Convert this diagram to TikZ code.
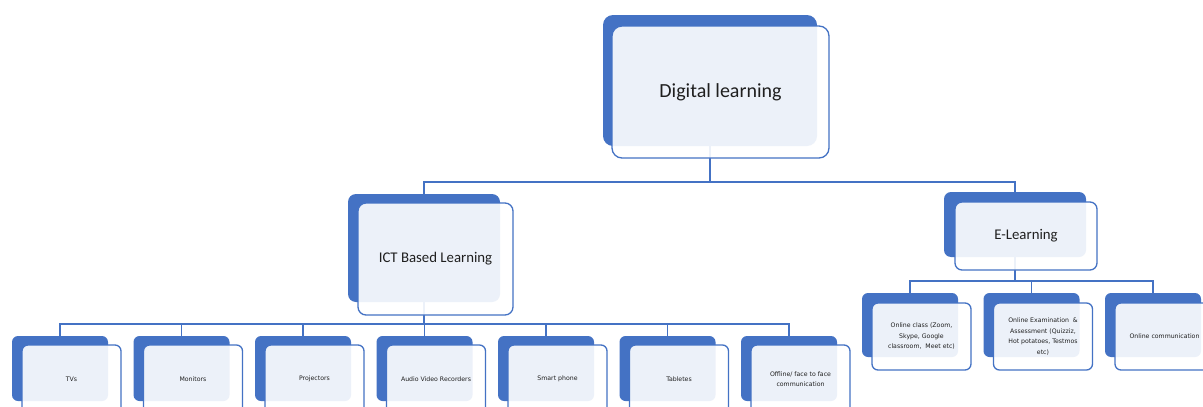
\documentclass[tikz,border=0pt]{standalone}
\usepackage{fontspec}
\setmainfont{Carlito}
\newfontfamily\smallfont{DejaVu Sans}
\begin{document}
\definecolor{accent}{HTML}{4472C4}
\definecolor{ink}{HTML}{1F1F1F}
\begin{tikzpicture}[x=1pt,y=-1pt,
  backbox/.style={fill=accent,draw=none,inner sep=0pt},
  frontbox/.style={fill=white,fill opacity=0.9,text opacity=1,draw=accent,line width=1.3pt,
    inner sep=0pt,align=center,text=ink},
  conn/.style={draw=accent,line width=1.3pt},
  bigtext/.style={font=\fontsize{20}{24}\selectfont},
  midtext/.style={font=\fontsize{14.8}{18}\selectfont},
  smalltext/.style={font=\smallfont\fontsize{6.2}{10.5}\selectfont},
  childback/.style={backbox,minimum width=96pt,minimum height=65pt,rounded corners=6pt},
  childfront/.style={frontbox,smalltext,minimum width=99pt,minimum height=68pt,rounded corners=6pt}
]
\useasboundingbox (0,0) rectangle (1203,407);
\clip (0,0) rectangle (1203,407);
\fill[white] (0,0) rectangle (1203,407);

% bus levels of the tree
\coordinate (busA) at (0,182);
\coordinate (busB) at (0,324);
\coordinate (busC) at (0,281);

% back panels
\node[backbox,minimum width=214pt,minimum height=131pt,rounded corners=10pt] (dlb) at (710,80.5) {};
\node[backbox,minimum width=152pt,minimum height=108pt,rounded corners=8pt] (ictb) at (424,248) {};
\node[backbox,minimum width=142pt,minimum height=65pt,rounded corners=7pt] (elb) at (1015,224.5) {};

\foreach \i/\cx in {1/60,2/181.5,3/303,4/424.5,5/546,6/667.5,7/789}{
  \node[childback] (c\i b) at (\cx,368.5) {};
}
\foreach \i/\cx in {1/910,2/1031.5,3/1153}{
  \node[childback,minimum height=64pt] (e\i b) at (\cx,325) {};
}

% connectors
\draw[conn] (dlb.south) -- (dlb.south |- busA);
\draw[conn] (ictb.north) |- (dlb.south |- busA) -| (elb.north);
\draw[conn] (ictb.south) -- (ictb.south |- busB);
\foreach \i in {1,...,7}{
  \draw[conn] (c\i b.north) |- (ictb.south |- busB);
}
\draw[conn] (elb.south) -- (elb.south |- busC);
\foreach \i in {1,2,3}{
  \draw[conn] (e\i b.north) |- (elb.south |- busC);
}

% front panels with labels
\node[frontbox,bigtext,minimum width=217pt,minimum height=132pt,rounded corners=10pt] (dl) at (720.5,92) {Digital learning};
\node[frontbox,midtext,minimum width=155pt,minimum height=112pt,rounded corners=8pt] (ict) at (435.5,259) {ICT Based Learning};
\node[frontbox,midtext,minimum width=142pt,minimum height=68pt,rounded corners=7pt] (el) at (1026,236) {E-Learning};

\node[childfront] (c1) at (c1b.center) [xshift=11.5pt,yshift=-10.5pt] {TVs};
\node[childfront] (c2) at (c2b.center) [xshift=11.5pt,yshift=-10.5pt] {Monitors};
\node[childfront] (c3) at (c3b.center) [xshift=11.5pt,yshift=-10.5pt] {Projectors};
\node[childfront] (c4) at (c4b.center) [xshift=11.5pt,yshift=-10.5pt] {Audio Video Recorders};
\node[childfront] (c5) at (c5b.center) [xshift=11.5pt,yshift=-10.5pt] {Smart phone};
\node[childfront] (c6) at (c6b.center) [xshift=11.5pt,yshift=-10.5pt] {Tabletes};
\node[childfront] (c7) at (c7b.center) [xshift=11.5pt,yshift=-10.5pt] {Offline/ face to face\\communication};

\node[childfront,minimum height=67pt] (e1) at (e1b.center) [xshift=11.5pt,yshift=-11.5pt] {Online class (Zoom,\\Skype, Google\\classroom,\ \ Meet etc)};
\node[childfront,minimum height=67pt] (e2) at (e2b.center) [xshift=11.5pt,yshift=-11.5pt] {Online Examination\ \ \&\\Assessment (Quizziz,\\Hot potatoes, Testmos\\etc)};
\node[childfront,minimum height=67pt] (e3) at (e3b.center) [xshift=11.5pt,yshift=-11.5pt] {Online communication};
\end{tikzpicture}
\end{document}
